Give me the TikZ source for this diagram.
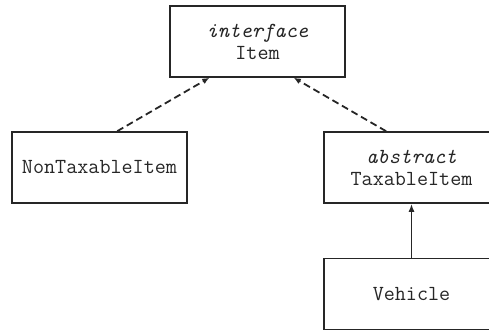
\documentclass[tikz,border=0pt]{standalone}
\usepackage{fontspec}
\usetikzlibrary{arrows.meta}
\begin{document}
\begin{tikzpicture}[x=1pt,y=1pt,
    umlbox/.style={draw=black!85,line width=1.6pt,rectangle,minimum width=175pt,
      minimum height=71pt,align=center,text=black!85,
      font=\fontsize{21.5}{22}\selectfont\ttfamily},
    realize/.style={draw=black!85,line width=1.8pt,dash pattern=on 7pt off 4pt,
      -{Latex[length=7pt,width=6pt]}},
    extend/.style={draw=black!85,line width=1.6pt,-{Latex[length=8pt,width=6pt]}}]
  \clip (0,0) rectangle (489,331);
  \draw
    (257.5,289.5) node[umlbox] (item){\textit{interface}\\Item}
    (99.5,163.5) node[umlbox] (nontax){NonTaxableItem}
    (411.5,163.5) node[umlbox] (taxable){\textit{abstract}\\TaxableItem}
    (411.5,37) node[umlbox] (vehicle){Vehicle};
  \begin{scope}
    \draw[realize] (nontax.64) to (item.217);
    \draw[realize] (taxable.125) to (item.315);
    \draw[extend] (vehicle.north) to (taxable.south);
  \end{scope}
\end{tikzpicture}
\end{document}
